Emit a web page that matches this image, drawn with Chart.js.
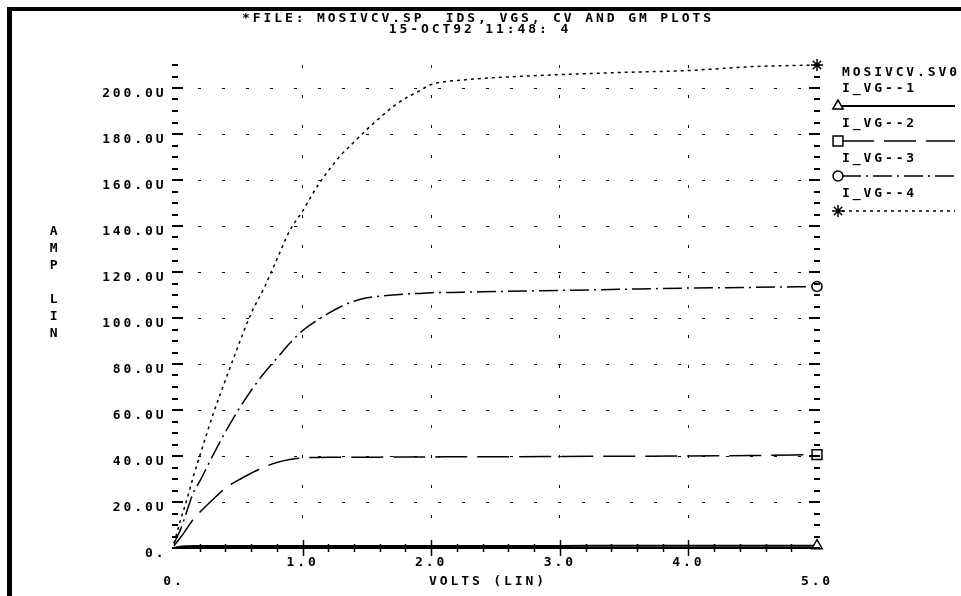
<!DOCTYPE html>
<html>
<head>
<meta charset="utf-8">
<title>MOSIVCV.SP IDS, VGS, CV AND GM PLOTS</title>
<script src="https://cdn.jsdelivr.net/npm/chart.js@4.4.1/dist/chart.umd.min.js"></script>
<style>
    html, body { margin: 0; padding: 0; background: #fff; }
    #wrap { position: relative; width: 961px; height: 596px; }
</style>
</head>
<body>
<div id="wrap"><canvas id="chartCanvas"></canvas></div>
<script>
// ---------- Data ----------
const volts = [0, 0.05, 0.1, 0.15, 0.2, 0.3, 0.4, 0.5, 0.6, 0.7, 0.8, 0.9, 1.0, 1.1, 1.2, 1.3, 1.4, 1.5, 1.6, 1.7, 1.8, 1.9, 2.0, 2.25, 2.5, 3.0, 3.5, 4.0, 4.5, 5.0];

const ivg1 = [0, 0.6, 0.8, 0.9, 0.9, 0.9, 0.9, 0.9, 0.9, 0.9, 0.9, 0.9, 0.9, 0.9, 0.9, 0.9, 0.9, 0.9, 0.9, 0.9, 0.9, 0.9, 0.9, 0.9, 0.9, 0.9, 1.0, 1.0, 1.0, 1.0];
const ivg2 = [1, 4.5, 8.5, 12.5, 15.5, 21, 26, 29.5, 32.5, 35.2, 37.2, 38.5, 39.2, 39.4, 39.5, 39.5, 39.5, 39.5, 39.5, 39.6, 39.6, 39.6, 39.6, 39.7, 39.7, 39.8, 39.9, 40.0, 40.2, 40.6];
const ivg3 = [2, 8, 16, 24, 29, 40, 50.5, 60, 68.5, 76, 82.5, 89, 94.5, 98.5, 102, 105, 107.3, 108.8, 109.5, 110, 110.4, 110.7, 111, 111.2, 111.5, 112, 112.5, 113, 113.3, 113.7];
const ivg4 = [2, 12, 21, 31, 40, 57.5, 73, 88, 102, 113, 125.5, 138, 146.5, 156, 164, 171, 176.5, 182, 187, 191.8, 195.5, 198.5, 201.5, 203.5, 204.5, 205.8, 206.8, 207.6, 209.3, 210];

const seriesNames = ["I_VG--1", "I_VG--2", "I_VG--3", "I_VG--4"];
const fileName = "MOSIVCV.SV0";
const titleLines = ["*FILE: MOSIVCV.SP  IDS, VGS, CV AND GM PLOTS", "15-OCT92 11:48: 4"];

const yLabelValues = [0, 20, 40, 60, 80, 100, 120, 140, 160, 180, 200];
const yLabels = ["0.", "20.0U", "40.0U", "60.0U", "80.0U", "100.0U", "120.0U", "140.0U", "160.0U", "180.0U", "200.0U"];
const xLabelValues = [0, 1, 2, 3, 4, 5];
const xLabels = ["0.", "1.0", "2.0", "3.0", "4.0", "5.0"];
const xTitle = "VOLTS (LIN)";
const yTitle = ["A", "M", "P", "", "L", "I", "N"];

// ---------- look ----------
const FONT = "bold 13px 'DejaVu Sans Mono', monospace";
const GAP = "2.9px";

function near(a, b) { return Math.abs(a - b) < 1e-6; }
function labelIndex(values, v) { return values.findIndex(x => near(x, v)); }

function line(ctx, x1, y1, x2, y2) {
    ctx.beginPath();
    ctx.moveTo(x1, y1);
    ctx.lineTo(x2, y2);
    ctx.stroke();
}

// only the last point of every curve carries its marker
function endMarker(size) {
    return ctx => ctx.dataIndex === volts.length - 1 ? size : 0;
}

// ---------- plotter decorations (frame, ticks, titles, legend) ----------
const plotterPlugin = {
    id: "plotter",
    beforeDraw(chart) {
        const ctx = chart.ctx;
        ctx.letterSpacing = GAP;
        ctx.save();
        ctx.fillStyle = "#fff";
        ctx.fillRect(0, 0, chart.width, chart.height);
        ctx.fillStyle = "#000";
        ctx.fillRect(7, 7, chart.width - 7, 4);
        ctx.fillRect(7, 7, 5, chart.height - 7);
        ctx.restore();
    },
    afterDraw(chart) {
        const ctx = chart.ctx;
        const area = chart.chartArea;
        const xs = chart.scales.x, ys = chart.scales.y;
        ctx.save();
        ctx.strokeStyle = "#000";
        ctx.fillStyle = "#000";

        // y tick marks, both sides, pointing inward
        ctx.lineWidth = 2;
        ys.ticks.forEach(t => {
            const py = Math.round(ys.getPixelForValue(t.value));
            const len = t.value % 20 === 0 ? 11 : 6;
            line(ctx, area.left - 2, py, area.left - 2 + len, py);
            line(ctx, area.right + 3, py, area.right + 3 - len, py);
        });

        // x axis line and crossing ticks
        line(ctx, area.left, area.bottom, area.right + 2, area.bottom);
        ctx.lineWidth = 1.5;
        xs.ticks.forEach(t => {
            if (t.value <= 0 || t.value >= 5) return;
            const px = Math.round(xs.getPixelForValue(t.value)) + 0.5;
            const len = near(t.value, Math.round(t.value)) ? 8 : 4;
            line(ctx, px, area.bottom - len, px, area.bottom + len);
        });

        // texts
        ctx.font = FONT;
        ctx.textBaseline = "middle";
        ctx.textAlign = "center";
        ctx.fillText(titleLines[0], 478, 19);
        ctx.fillText(titleLines[1], 480, 30);
        ctx.fillText(xTitle, 488, 582);
        yTitle.forEach((ch, i) => {
            if (ch) ctx.fillText(ch, 55, 232 + i * 17);
        });

        // legend at the right
        ctx.textAlign = "left";
        ctx.fillText(fileName, 842, 73);
        chart.data.datasets.forEach((ds, i) => {
            const my = 106 + i * 35;
            ctx.fillText(ds.label, 842, my - 17);
            ctx.save();
            ctx.lineWidth = ds.borderWidth;
            ctx.setLineDash(ds.borderDash);
            line(ctx, 842, my, 955, my);
            ctx.restore();
            ctx.save();
            ctx.setLineDash([]);
            ctx.lineWidth = 1.5;
            ctx.fillStyle = "#fff";
            ctx.strokeStyle = "#000";
            Chart.helpers.drawPoint(ctx, { pointStyle: ds.pointStyle, radius: ds.legendRadius, rotation: 0, borderWidth: 1.5 }, 838, my);
            ctx.restore();
        });
        ctx.restore();
    }
};

// ---------- Draw Chart ----------
function drawChart() {
    const ctx = document.getElementById("chartCanvas").getContext("2d");

    const common = {
        borderColor: "#000",
        pointBorderColor: "#000",
        pointBackgroundColor: "#fff",
        pointBorderWidth: 1.5,
        fill: false,
        cubicInterpolationMode: "monotone",
        clip: false
    };

    new Chart(ctx, {
        type: "line",
        data: {
            labels: volts,
            datasets: [
                { ...common, label: seriesNames[0], data: ivg1, borderWidth: 2, borderDash: [], pointStyle: "triangle", pointRadius: endMarker(6), legendRadius: 6 },
                { ...common, label: seriesNames[1], data: ivg2, borderWidth: 1.5, borderDash: [32, 10], pointStyle: "rect", pointRadius: endMarker(7), legendRadius: 7 },
                { ...common, label: seriesNames[2], data: ivg3, borderWidth: 1.5, borderDash: [19, 5, 2, 5], pointStyle: "circle", pointRadius: endMarker(5), legendRadius: 5 },
                { ...common, label: seriesNames[3], data: ivg4, borderWidth: 1.5, borderDash: [3, 4], pointStyle: "star", pointRadius: endMarker(6), legendRadius: 6 }
            ]
        },
        options: {
            responsive: true,
            maintainAspectRatio: false,
            animation: false,
            devicePixelRatio: 1,
            layout: { padding: { top: 65, right: 144, bottom: 0, left: 0 } },
            plugins: {
                legend: { display: false },
                title: { display: false },
                tooltip: { enabled: false }
            },
            scales: {
                x: {
                    type: "linear",
                    min: 0,
                    max: 5,
                    afterFit: s => { s.height = 48; },
                    border: { display: false, dash: [3, 27] },
                    grid: {
                        drawTicks: false,
                        lineWidth: 1,
                        color: c => {
                            const v = c.tick ? c.tick.value : -1;
                            return (near(v, Math.round(v)) && v > 0 && v < 5) ? "#000" : "rgba(0,0,0,0)";
                        }
                    },
                    ticks: {
                        stepSize: 0.2,
                        autoSkip: false,
                        maxRotation: 0,
                        padding: 5,
                        color: "#000",
                        font: { family: "'DejaVu Sans Mono', monospace", size: 13, weight: "bold", lineHeight: "19px" },
                        callback: v => {
                            const i = labelIndex(xLabelValues, v);
                            if (i < 0) return "";
                            return (i === 0 || i === xLabels.length - 1) ? ["", xLabels[i]] : xLabels[i];
                        }
                    }
                },
                y: {
                    min: 0,
                    max: 210,
                    afterFit: s => { s.width = 174; },
                    border: { display: false, dash: [3, 21] },
                    grid: {
                        drawTicks: false,
                        lineWidth: 1,
                        color: c => {
                            const v = c.tick ? c.tick.value : -1;
                            return (v % 20 === 0 && v > 0) ? "#000" : "rgba(0,0,0,0)";
                        }
                    },
                    ticks: {
                        stepSize: 5,
                        autoSkip: false,
                        padding: 7.5,
                        labelOffset: 6,
                        color: "#000",
                        font: { family: "'DejaVu Sans Mono', monospace", size: 13, weight: "bold" },
                        callback: v => {
                            const i = labelIndex(yLabelValues, v);
                            return i < 0 ? "" : yLabels[i];
                        }
                    }
                }
            }
        },
        plugins: [plotterPlugin]
    });
}

window.onload = function() {
    drawChart();
};
</script>
</body>
</html>
